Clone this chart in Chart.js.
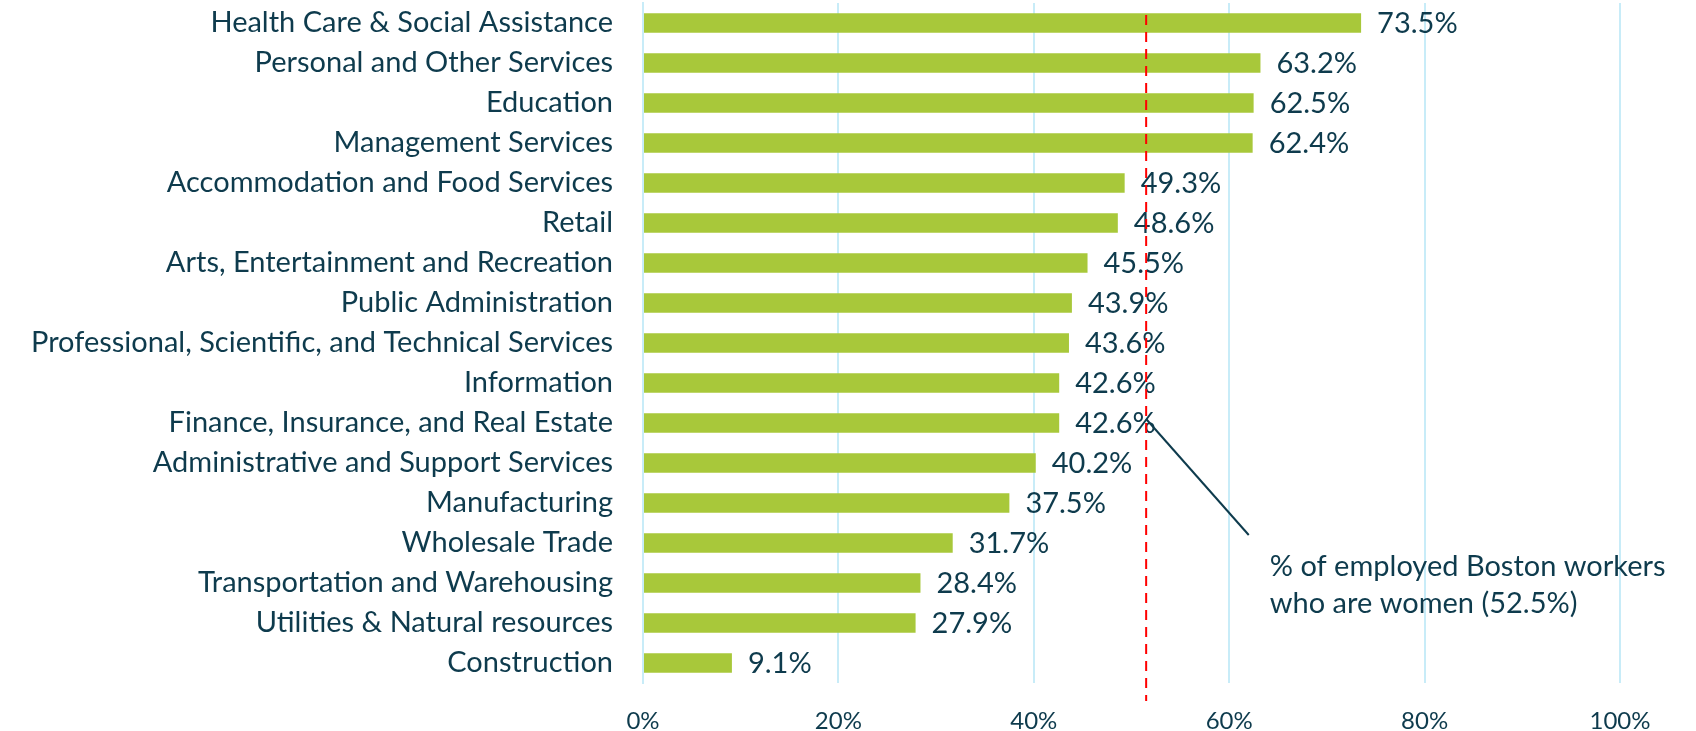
<!DOCTYPE html>
<html>
<head>
<meta charset="utf-8">
<script src="https://cdn.jsdelivr.net/npm/chart.js@4/dist/chart.umd.min.js"></script>
<style>
    html, body { margin: 0; padding: 0; background: #fff; }
    #wrap { width: 1696px; height: 731px; }
</style>
</head>
<body>
<div id="wrap"><canvas id="chartWomen"></canvas></div>
<script>
// ============== DATA ==============

const industries = [
    'Health Care & Social Assistance',
    'Personal and Other Services',
    'Education',
    'Management Services',
    'Accommodation and Food Services',
    'Retail',
    'Arts, Entertainment and Recreation',
    'Public Administration',
    'Professional, Scientific, and Technical Services',
    'Information',
    'Finance, Insurance, and Real Estate',
    'Administrative and Support Services',
    'Manufacturing',
    'Wholesale Trade',
    'Transportation and Warehousing',
    'Utilities & Natural resources',
    'Construction'
];

const womenShare = [73.5, 63.2, 62.5, 62.4, 49.3, 48.6, 45.5, 43.9, 43.6, 42.6, 42.6, 40.2, 37.5, 31.7, 28.4, 27.9, 9.1];

const xTicks = [0, 20, 40, 60, 80, 100];

// reference line as drawn in the picture, and its callout text
const avgLineValue = 51.5;
const calloutLines = ['% of employed Boston workers', 'who are women (52.5%)'];

// ============== STYLE ==============

const FONT = "Lato, 'Open Sans', sans-serif";
const TEXT_COLOR = '#0E3B4D';
const BAR_COLOR = '#A8C83A';
const GRID_COLOR = '#C8ECF8';

// callout anchors in scale units (x = %, y = category index)
const calloutStart = { x: avgLineValue, y: 9.9 };
const calloutEnd = { x: 62, y: 12.8 };

/**
 * Nhãn giá trị bên phải mỗi thanh
 */
const barLabelPlugin = {
    id: 'barLabels',
    afterDatasetsDraw(chart) {
        const ctx = chart.ctx;
        const meta = chart.getDatasetMeta(0);
        ctx.save();
        ctx.font = '29px ' + FONT;
        ctx.fillStyle = TEXT_COLOR;
        ctx.textAlign = 'left';
        ctx.textBaseline = 'middle';
        meta.data.forEach((bar, i) => {
            ctx.fillText(womenShare[i].toFixed(1) + '%', bar.x + 16, bar.y + 1);
        });
        ctx.restore();
    }
};

/**
 * Đường trung bình (nét đứt đỏ) + chú thích
 */
const avgLinePlugin = {
    id: 'avgLine',
    afterDraw(chart) {
        const ctx = chart.ctx;
        const xs = chart.scales.x;
        const ys = chart.scales.y;
        const area = chart.chartArea;
        const x = xs.getPixelForValue(avgLineValue);

        ctx.save();
        ctx.strokeStyle = '#FF0000';
        ctx.lineWidth = 2;
        ctx.setLineDash([10, 7]);
        ctx.beginPath();
        ctx.moveTo(x, area.top + 12);
        ctx.lineTo(x, area.bottom + 18);
        ctx.stroke();

        // callout leader
        const x1 = xs.getPixelForValue(calloutStart.x);
        const y1 = ys.getPixelForValue(calloutStart.y);
        const x2 = xs.getPixelForValue(calloutEnd.x);
        const y2 = ys.getPixelForValue(calloutEnd.y);
        ctx.setLineDash([]);
        ctx.strokeStyle = '#0E3B4D';
        ctx.lineWidth = 2;
        ctx.beginPath();
        ctx.moveTo(x1, y1);
        ctx.lineTo(x2, y2);
        ctx.stroke();

        ctx.font = '29px ' + FONT;
        ctx.fillStyle = TEXT_COLOR;
        ctx.textAlign = 'left';
        ctx.textBaseline = 'alphabetic';
        calloutLines.forEach((line, i) => {
            ctx.fillText(line, x2 + 21, y2 + 41 + i * 37);
        });
        ctx.restore();
    }
};

function initChartWomen() {
    const ctx = document.getElementById('chartWomen');
    if (!ctx) return;

    new Chart(ctx.getContext('2d'), {
        type: 'bar',
        data: {
            labels: industries,
            datasets: [
                {
                    data: womenShare,
                    backgroundColor: BAR_COLOR,
                    borderWidth: 0,
                    categoryPercentage: 1,
                    barPercentage: 0.49
                }
            ]
        },
        options: {
            indexAxis: 'y',
            responsive: true,
            maintainAspectRatio: false,
            animation: false,
            layout: {
                padding: { top: 3, right: 76, left: 0, bottom: 0 }
            },
            plugins: {
                legend: { display: false },
                tooltip: { enabled: false }
            },
            scales: {
                x: {
                    min: 0,
                    max: 100,
                    afterBuildTicks: function (scale) {
                        scale.ticks = xTicks.map(v => ({ value: v }));
                    },
                    afterFit: function (scale) {
                        scale.height = 48;
                        scale.paddingLeft = 0;
                        scale.paddingRight = 0;
                    },
                    ticks: {
                        color: TEXT_COLOR,
                        padding: 24,
                        maxRotation: 0,
                        font: { family: FONT, size: 24 },
                        callback: function (value) {
                            return value + '%';
                        }
                    },
                    grid: {
                        color: GRID_COLOR,
                        lineWidth: 2,
                        drawTicks: false
                    },
                    border: { display: false }
                },
                y: {
                    afterFit: function (scale) {
                        scale.width = 643;
                        scale.paddingTop = 0;
                        scale.paddingBottom = 0;
                    },
                    ticks: {
                        color: TEXT_COLOR,
                        padding: 30,
                        autoSkip: false,
                        font: { family: FONT, size: 29 }
                    },
                    grid: { display: false, drawTicks: false },
                    border: { color: GRID_COLOR, width: 2 }
                }
            }
        },
        plugins: [barLabelPlugin, avgLinePlugin]
    });
}

document.addEventListener('DOMContentLoaded', function () {
    initChartWomen();
});
</script>
</body>
</html>
